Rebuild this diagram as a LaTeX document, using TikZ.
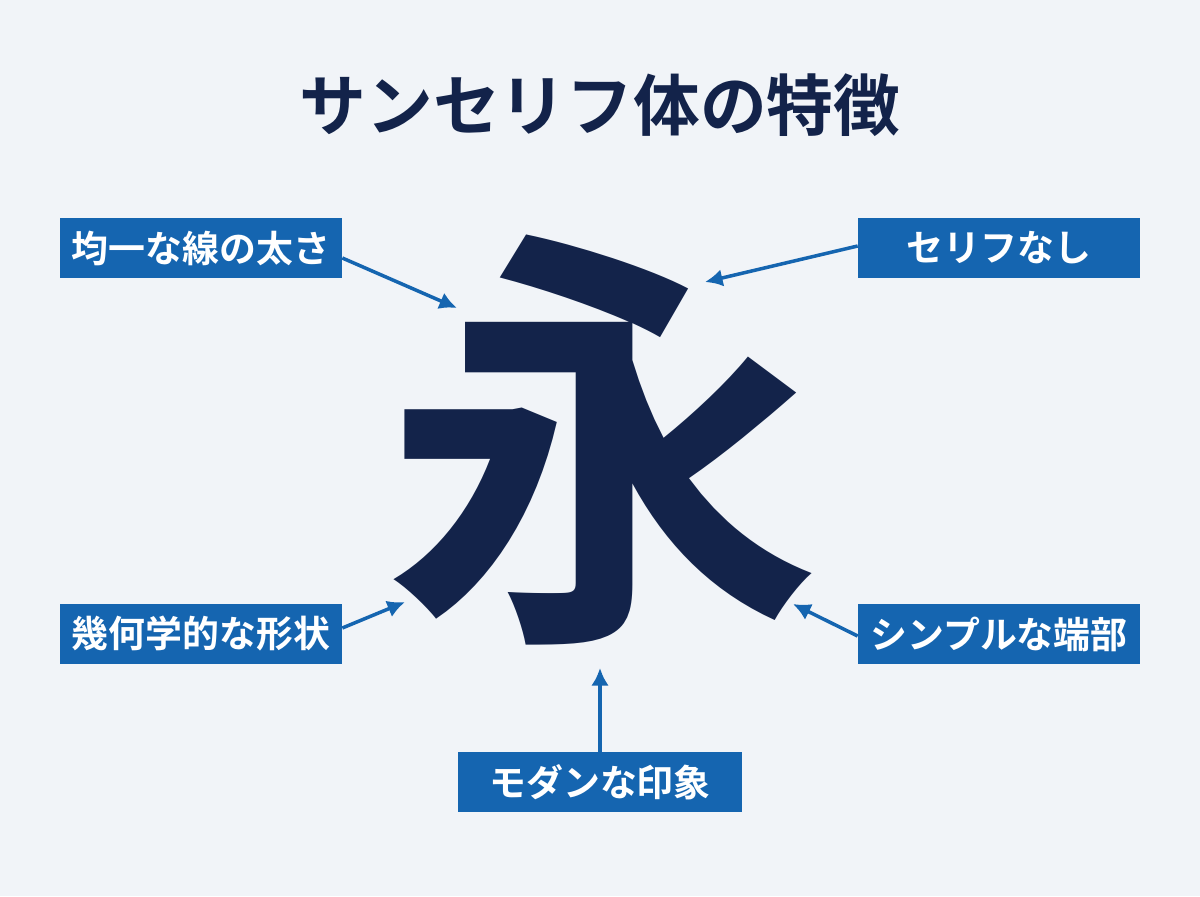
\documentclass[tikz,border=0pt]{standalone}
\usepackage{fontspec}
\newfontfamily\cjk{Noto Sans CJK JP Bold}
\usetikzlibrary{arrows.meta}
\definecolor{bgc}{HTML}{F1F4F8}
\definecolor{navy}{HTML}{13234A}
\definecolor{boxblue}{HTML}{1565B0}
\tikzset{
  feat/.style={fill=boxblue, text=white, minimum width=5.64cm, minimum height=1.2cm,
    inner sep=0pt, font=\cjk\fontsize{21}{24}\selectfont},
  pointer/.style={draw=boxblue, line width=2pt, -{Latex[length=10pt,width=10pt]}}
}
\begin{document}
\begin{tikzpicture}[x=0.02cm, y=-0.02cm]
    \fill[bgc] (0,0) rectangle (1200,896);
    \useasboundingbox (0,0) rectangle (1200,896);

    \node[text=navy, font=\cjk\fontsize{38}{42}\selectfont] (title) at (600,105) {サンセリフ体の特徴};
    \node[text=navy, font=\cjk\fontsize{250}{250}\selectfont, inner sep=0pt] (ei) at (602,440) {永};

    \node[feat] (uniform) at (201,248) {均一な線の太さ};
    \node[feat] (noserif) at (999,248) {セリフなし};
    \node[feat] (geom) at (201,634) {幾何学的な形状};
    \node[feat] (simple) at (999,634) {シンプルな端部};
    \node[feat, minimum width=5.68cm] (modern) at (600,782) {モダンな印象};

    \coordinate (t1) at (457,308);
    \coordinate (t2) at (705,282);
    \coordinate (t3) at (405,602);
    \coordinate (t4) at (793,604);
    \coordinate (t5) at (600,668);

    \draw[pointer] (uniform.east |- 0,258) -- (t1);
    \draw[pointer] (noserif.west |- 0,246) -- (t2);
    \draw[pointer] (geom.east |- 0,628) -- (t3);
    \draw[pointer] (simple.west |- 0,636) -- (t4);
    \draw[pointer] (modern.north) -- (t5);
\end{tikzpicture}
\end{document}
